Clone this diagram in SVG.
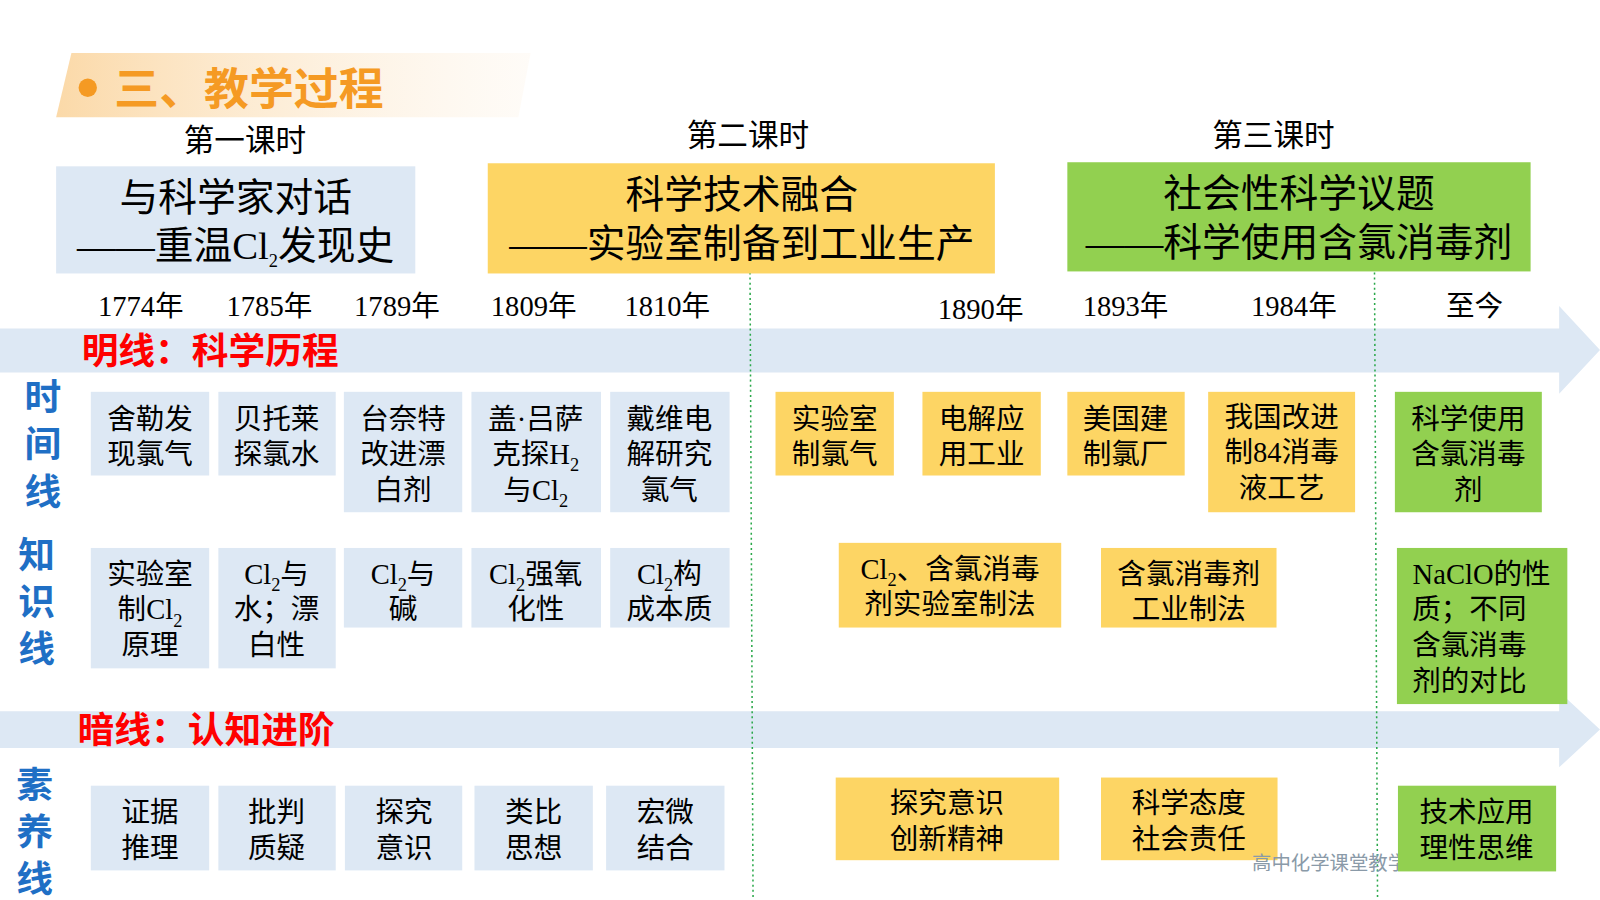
<svg xmlns="http://www.w3.org/2000/svg" width="1600" height="900" viewBox="0 0 1600 900">
<defs>
<linearGradient id="bn" x1="0" x2="1" y1="0" y2="0"><stop offset="0" stop-color="#fbd9a8"/><stop offset="1" stop-color="#fdf3e6" stop-opacity="0.3"/></linearGradient>
</defs>
<style>
.b{fill:#dde8f4}.y{fill:#fdd564}.g{fill:#92d050}
text{font-family:"Liberation Serif","Noto Sans CJK SC",serif;fill:#000;text-anchor:middle}
.t{font-size:28px}.h{font-size:38px}.s{font-size:30px}
.side{font-family:"Noto Sans CJK SC",sans-serif;font-weight:bold;fill:#1f6fc5;font-size:36px}
.red{font-family:"Noto Sans CJK SC",sans-serif;font-weight:bold;fill:#ff0000;font-size:36px;text-anchor:start}
.sub{font-size:18px}
.dot{stroke:#2aa84a;stroke-width:1.5;stroke-dasharray:2 3;fill:none}
</style>
<rect width="1600" height="900" fill="#fff"/>
<g transform="scale(1.0204)">
<g id="banner">
<polygon points="70,52 520,52 508,115 55,115" fill="url(#bn)"/>
<circle cx="86" cy="86" r="9" fill="#f59a23"/>
<text x="112" y="103" style="font-family:'Noto Sans CJK SC',sans-serif;font-weight:bold;font-size:44px;fill:#f59a23;text-anchor:start">三、教学过程</text>
</g>
<g id="connectors">
<polygon points="0,322 1528,322 1528,300 1568,343 1528,386 1528,365 0,365" fill="#dde8f4"/>
<polygon points="0,697 1528,697 1528,678 1568,715 1528,752 1528,733 0,733" fill="#dde8f4"/>
<line class="dot" x1="735" y1="262" x2="738" y2="880"/>
<line class="dot" x1="1347" y1="262" x2="1350" y2="880"/>
</g>
<text class="red" x="80" y="357">明线：科学历程</text>
<text class="red" x="76" y="728">暗线：认知进阶</text>
<g id="side"><text class="side" x="42" y="402">时</text><text class="side" x="42" y="448">间</text><text class="side" x="42" y="495">线</text>
<text class="side" x="36" y="557">知</text><text class="side" x="36" y="603">识</text><text class="side" x="36" y="649">线</text>
<text class="side" x="34" y="782">素</text><text class="side" x="34" y="828">养</text><text class="side" x="34" y="874">线</text></g>
<g id="periods">
<text class="s" x="240" y="148">第一课时</text><text class="s" x="733" y="143">第二课时</text><text class="s" x="1248" y="143">第三课时</text>
</g>
<g id="years">
<text class="t" x="138" y="310">1774年</text><text class="t" x="264" y="310">1785年</text><text class="t" x="389" y="310">1789年</text><text class="t" x="523" y="310">1809年</text><text class="t" x="654" y="310">1810年</text><text class="t" x="961" y="313">1890年</text><text class="t" x="1103" y="310">1893年</text><text class="t" x="1268" y="310">1984年</text><text class="t" x="1445" y="310">至今</text>
</g>
<g id="h1"><rect class="b" x="55" y="163" width="352" height="105"/><text class="h" x="231" y="207">与科学家对话</text><text class="h" x="231" y="254">——重温Cl<tspan class="sub" dy="8">2</tspan><tspan dy="-8">发现史</tspan></text></g>
<g id="h2"><rect class="y" x="478" y="160" width="497" height="108"/><text class="h" x="727" y="204">科学技术融合</text><text class="h" x="727" y="252">——实验室制备到工业生产</text></g>
<g id="h3"><rect class="g" x="1046" y="159" width="454" height="107"/><text class="h" x="1273" y="203">社会性科学议题</text><text class="h" x="1273" y="251">——科学使用含氯消毒剂</text></g>
<g id="r1a"><rect class="b" x="89" y="384" width="116" height="82"/><text class="t" x="147" y="420">舍勒发</text><text class="t" x="147" y="455">现氯气</text></g>
<g id="r1b"><rect class="b" x="214" y="384" width="115" height="82"/><text class="t" x="271" y="420">贝托莱</text><text class="t" x="271" y="455">探氯水</text></g>
<g id="r1c"><rect class="b" x="337" y="384" width="116" height="118"/><text class="t" x="395" y="420">台奈特</text><text class="t" x="395" y="455">改进漂</text><text class="t" x="395" y="490">白剂</text></g>
<g id="r1d"><rect class="b" x="462" y="384" width="127" height="118"/><text class="t" x="525" y="420">盖·吕萨</text><text class="t" x="525" y="455">克探H<tspan class="sub" dy="7">2</tspan></text><text class="t" x="525" y="490">与Cl<tspan class="sub" dy="7">2</tspan></text></g>
<g id="r1e"><rect class="b" x="598" y="384" width="117" height="118"/><text class="t" x="656" y="420">戴维电</text><text class="t" x="656" y="455">解研究</text><text class="t" x="656" y="490">氯气</text></g>
<g id="r1f"><rect class="y" x="760" y="384" width="116" height="82"/><text class="t" x="818" y="420">实验室</text><text class="t" x="818" y="455">制氯气</text></g>
<g id="r1g"><rect class="y" x="904" y="384" width="116" height="82"/><text class="t" x="962" y="420">电解应</text><text class="t" x="962" y="455">用工业</text></g>
<g id="r1h"><rect class="y" x="1046" y="384" width="115" height="82"/><text class="t" x="1103" y="420">美国建</text><text class="t" x="1103" y="455">制氯厂</text></g>
<g id="r1i"><rect class="y" x="1184" y="384" width="144" height="118"/><text class="t" x="1256" y="418">我国改进</text><text class="t" x="1256" y="453">制84消毒</text><text class="t" x="1256" y="488">液工艺</text></g>
<g id="r1j"><rect class="g" x="1367" y="384" width="144" height="118"/><text class="t" x="1439" y="420">科学使用</text><text class="t" x="1439" y="455">含氯消毒</text><text class="t" x="1439" y="490">剂</text></g>
<g id="r2a"><rect class="b" x="89" y="537" width="116" height="118"/><text class="t" x="147" y="572">实验室</text><text class="t" x="147" y="607">制Cl<tspan class="sub" dy="7">2</tspan></text><text class="t" x="147" y="642">原理</text></g>
<g id="r2b"><rect class="b" x="214" y="537" width="115" height="118"/><text class="t" x="271" y="572">Cl<tspan class="sub" dy="7">2</tspan><tspan dy="-7">与</tspan></text><text class="t" x="271" y="607">水；漂</text><text class="t" x="271" y="642">白性</text></g>
<g id="r2c"><rect class="b" x="337" y="537" width="116" height="78"/><text class="t" x="395" y="572">Cl<tspan class="sub" dy="7">2</tspan><tspan dy="-7">与</tspan></text><text class="t" x="395" y="607">碱</text></g>
<g id="r2d"><rect class="b" x="462" y="537" width="127" height="78"/><text class="t" x="525" y="572">Cl<tspan class="sub" dy="7">2</tspan><tspan dy="-7">强氧</tspan></text><text class="t" x="525" y="607">化性</text></g>
<g id="r2e"><rect class="b" x="598" y="537" width="117" height="78"/><text class="t" x="656" y="572">Cl<tspan class="sub" dy="7">2</tspan><tspan dy="-7">构</tspan></text><text class="t" x="656" y="607">成本质</text></g>
<g id="r2f"><rect class="y" x="822" y="532" width="218" height="83"/><text class="t" x="931" y="567">Cl<tspan class="sub" dy="7">2</tspan><tspan dy="-7">、含氯消毒</tspan></text><text class="t" x="931" y="602">剂实验室制法</text></g>
<g id="r2g"><rect class="y" x="1079" y="537" width="172" height="78"/><text class="t" x="1165" y="572">含氯消毒剂</text><text class="t" x="1165" y="607">工业制法</text></g>
<g id="r2h"><rect class="g" x="1369" y="537" width="167" height="153"/><text class="t" x="1452" y="572">NaClO的性</text><text class="t" x="1440" y="607">质；不同</text><text class="t" x="1440" y="642">含氯消毒</text><text class="t" x="1440" y="677">剂的对比</text></g>
<g id="r3a"><rect class="b" x="89" y="770" width="116" height="83"/><text class="t" x="147" y="806">证据</text><text class="t" x="147" y="841">推理</text></g>
<g id="r3b"><rect class="b" x="214" y="770" width="115" height="83"/><text class="t" x="271" y="806">批判</text><text class="t" x="271" y="841">质疑</text></g>
<g id="r3c"><rect class="b" x="338" y="770" width="115" height="83"/><text class="t" x="396" y="806">探究</text><text class="t" x="396" y="841">意识</text></g>
<g id="r3d"><rect class="b" x="465" y="770" width="116" height="83"/><text class="t" x="523" y="806">类比</text><text class="t" x="523" y="841">思想</text></g>
<g id="r3e"><rect class="b" x="594" y="770" width="116" height="83"/><text class="t" x="652" y="806">宏微</text><text class="t" x="652" y="841">结合</text></g>
<g id="r3f"><rect class="y" x="819" y="762" width="219" height="81"/><text class="t" x="928" y="797">探究意识</text><text class="t" x="928" y="832">创新精神</text></g>
<g id="r3g"><rect class="y" x="1079" y="762" width="173" height="81"/><text class="t" x="1165" y="797">科学态度</text><text class="t" x="1165" y="832">社会责任</text></g>
<text x="1227" y="853" style="font-family:'Noto Sans CJK SC',sans-serif;font-size:19px;fill:#8a9aa8;text-anchor:start">高中化学课堂教学</text>
<g id="r3h"><rect class="g" x="1370" y="770" width="155" height="84"/><text class="t" x="1447" y="806">技术应用</text><text class="t" x="1447" y="841">理性思维</text></g>
</g>
</svg>
